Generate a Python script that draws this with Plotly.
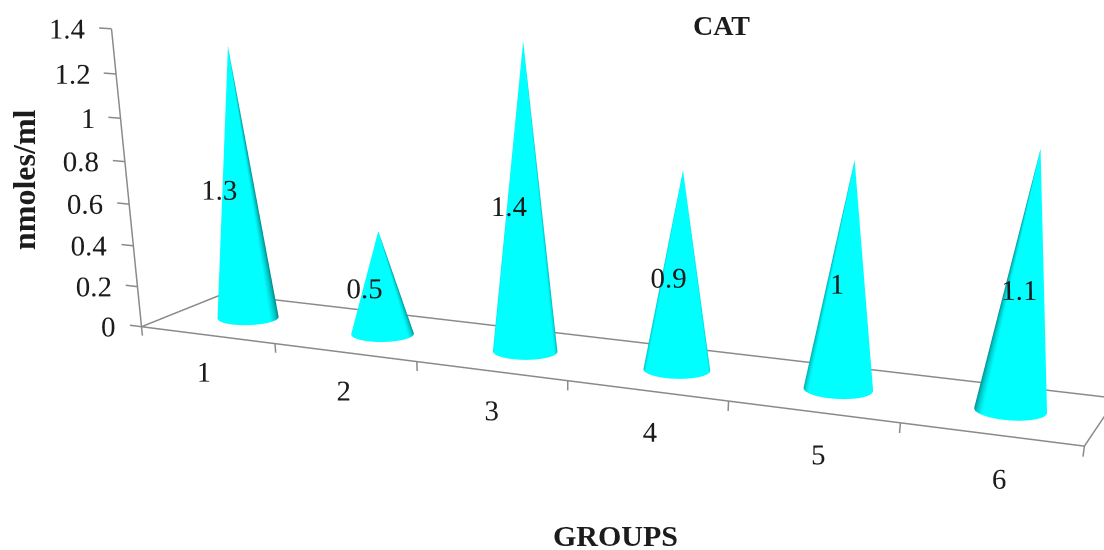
import numpy as np
import plotly.graph_objects as go

groups = [1, 2, 3, 4, 5, 6]
values = [1.3, 0.5, 1.4, 0.9, 1, 1.1]
value_labels = ["1.3", "0.5", "1.4", "0.9", "1", "1.1"]
z_ticks = [0, 0.2, 0.4, 0.6, 0.8, 1, 1.2, 1.4]
z_labels = ["0", "0.2", "0.4", "0.6", "0.8", "1", "1.2", "1.4"]

H = 1600
W = 1104
FONT = "Liberation Serif"
INK = "#1c1c1c"
AX = "#8a8a8a"
RX, RY = 0.2, 0.2

xr = (-0.5, 6.2); yr = (-0.02, 1.02); zr = (-0.3, 1.45)
base = dict(x=(0, 6), y=(0, 1), z=(0, 1.4))
a = np.array([3.348, 0.537, 1.0])
eye = np.array([2.516, -5.964, 1.28]); cen = np.array([0.399, -1.277, -1.478]); up = (0, 0, 1)
ranges = [xr, yr, zr]; spans = [base["x"], base["y"], base["z"]]
a2 = np.array([a[i]*(ranges[i][1]-ranges[i][0])/(spans[i][1]-spans[i][0]) for i in range(3)])
shift = np.array([(spans[i][0]-ranges[i][0])/(spans[i][1]-spans[i][0])*a[i]-a2[i]/2+a[i]/2 for i in range(3)])
e2 = eye+shift; c2 = cen+shift

fig = go.Figure()
theta = np.linspace(0, 2*np.pi, 181)
for i, v in enumerate(values):
    xc = (i+0.5)/6*a[0]-a[0]/2
    psi = np.arctan2(eye[1], eye[0]-xc)
    phi = psi + np.radians(-25+9*i)
    shade = np.clip(1.4*np.cos(theta-phi)+0.5, 0, 1)
    X = np.vstack([i+0.5+RX*np.cos(theta), np.full_like(theta, i+0.5)])
    Y = np.vstack([0.5+RY*np.sin(theta), np.full_like(theta, 0.5)])
    Z = np.vstack([np.zeros_like(theta), np.full_like(theta, v)])
    fig.add_trace(go.Surface(x=X, y=Y, z=Z, surfacecolor=np.vstack([shade, shade]), cmin=0, cmax=1,
        colorscale=[[0, "#007a7a"], [1, "#00ffff"]], showscale=False, hoverinfo="skip",
        lighting=dict(ambient=1, diffuse=0, specular=0, fresnel=0, roughness=1),
        contours=dict(x=dict(highlight=False), y=dict(highlight=False), z=dict(highlight=False))))

def seg(xs, ys, zs):
    fig.add_trace(go.Scatter3d(x=xs, y=ys, z=zs, mode="lines", line=dict(color=AX, width=3), hoverinfo="skip"))

seg([0, 6, 6, 0, 0], [0, 0, 1, 1, 0], [0, 0, 0, 0, 0])
seg([0, 0], [0, 0], [0, 1.4])
for t in z_ticks:
    seg([0, -0.09], [0, 0], [t, t])
for k in range(7):
    seg([k, k], [0, 0], [0, -0.045])

txt = dict(family=FONT, size=29, color=INK)
fig.add_trace(go.Scatter3d(x=[0.015]*len(z_ticks), y=[0]*len(z_ticks), z=z_ticks, mode="text", text=z_labels,
    textposition="middle left", textfont=txt, hoverinfo="skip"))
fig.add_trace(go.Scatter3d(x=[g-0.5+0.024*(g-3) for g in groups], y=[0]*6, z=[-0.19]*6, mode="text", text=[str(g) for g in groups],
    textposition="middle center", textfont=txt, hoverinfo="skip"))
fig.add_trace(go.Scatter3d(x=[g-0.48 for g in groups], y=[0.25]*6, z=[v/2+0.015 for v in values], mode="text", text=value_labels,
    textposition="middle center", textfont=txt, hoverinfo="skip"))

noax = dict(visible=False, showspikes=False)
ann = dict(xref="paper", yref="paper", showarrow=False, xanchor="center", yanchor="middle")
fig.update_layout(width=W, height=H, margin=dict(l=0, r=0, t=0, b=0), showlegend=False, paper_bgcolor="white",
    scene=dict(domain=dict(x=[0, 1], y=[0, 1]),
        xaxis=dict(range=list(xr), **noax), yaxis=dict(range=list(yr), **noax), zaxis=dict(range=list(zr), **noax),
        aspectmode="manual", aspectratio=dict(x=a2[0], y=a2[1], z=a2[2]),
        camera=dict(eye=dict(x=e2[0], y=e2[1], z=e2[2]), center=dict(x=c2[0], y=c2[1], z=c2[2]), up=dict(x=up[0], y=up[1], z=up[2]))),
    annotations=[
        dict(text="<b>CAT</b>", x=721/W, y=1-25/H, font=dict(family=FONT, size=28, color=INK), **ann),
        dict(text="<b>GROUPS</b>", x=615/W, y=1-535/H, font=dict(family=FONT, size=30, color=INK), **ann),
        dict(text="<b>nmoles/ml</b>", x=24/W, y=1-180/H, textangle=-90, font=dict(family=FONT, size=32, color=INK), **ann),
    ])
fig.write_html("out.html", config={"displayModeBar": False},
               post_script="document.body.style.margin='0';document.body.style.overflow='hidden';")
